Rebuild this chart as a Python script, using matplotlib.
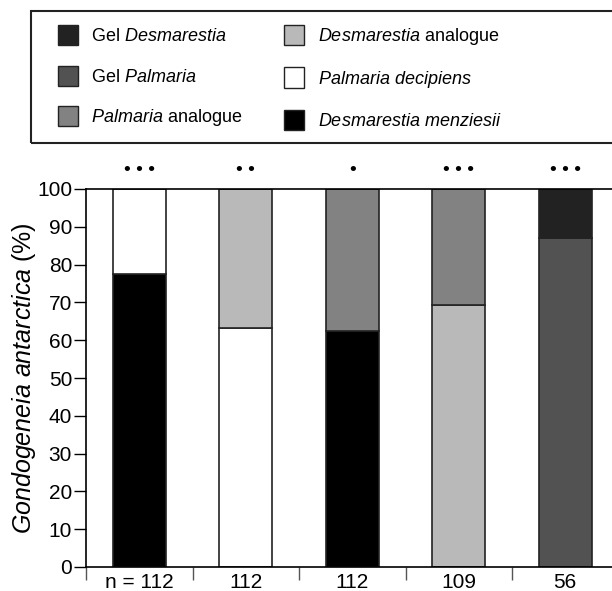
import matplotlib.pyplot as plt
from matplotlib.patches import Patch, Rectangle
import numpy as np

plt.rcParams['font.family'] = ['Liberation Sans', 'DejaVu Sans']
plt.rcParams['mathtext.fontset'] = 'custom'
plt.rcParams['mathtext.rm'] = 'Liberation Sans'
plt.rcParams['mathtext.it'] = 'Liberation Sans:italic'

# --- data ---
groups = ["n = 112", "112", "112", "109", "56"]
significance = ["• • •", "• •", "•", "• • •", "• • •"]
bottom_species = ["Desmarestia menziesii", "Palmaria decipiens", "Desmarestia menziesii",
                  "Desmarestia analogue", "Gel Palmaria"]
bottom_pct = [77.4, 63.3, 62.5, 69.3, 87.1]
top_species = ["Palmaria decipiens", "Desmarestia analogue", "Palmaria analogue",
               "Palmaria analogue", "Gel Desmarestia"]
top_pct = [100 - v for v in bottom_pct]

colors = {
    "Gel Desmarestia": "#222222",
    "Gel Palmaria": "#525252",
    "Palmaria analogue": "#828282",
    "Desmarestia analogue": "#b9b9b9",
    "Palmaria decipiens": "#ffffff",
    "Desmarestia menziesii": "#000000",
}
legend_labels = {
    "Gel Desmarestia": r"Gel $\it{Desmarestia}$",
    "Gel Palmaria": r"Gel $\it{Palmaria}$",
    "Palmaria analogue": r"$\it{Palmaria}$ analogue",
    "Desmarestia analogue": r"$\it{Desmarestia}$ analogue",
    "Palmaria decipiens": r"$\it{Palmaria\ decipiens}$",
    "Desmarestia menziesii": r"$\it{Desmarestia\ menziesii}$",
}

fig = plt.figure(figsize=(6.12, 5.91), dpi=100)
ax = fig.add_axes([86 / 612, 1 - 567 / 591, 532.5 / 612, 378 / 591])

x = np.arange(len(groups))
ax.bar(x, bottom_pct, width=0.5, color=[colors[s] for s in bottom_species],
       edgecolor="#222222", linewidth=1.2)
ax.bar(x, top_pct, width=0.5, bottom=bottom_pct, color=[colors[s] for s in top_species],
       edgecolor="#222222", linewidth=1.2)

for xi, sig in zip(x, significance):
    ax.text(xi, 104.8, sig, ha="center", va="center", fontsize=14, clip_on=False)

ax.set_xlim(-0.5, len(groups) - 0.5)
ax.set_ylim(0, 100)
ax.set_yticks(np.arange(0, 101, 10))
ax.tick_params(axis="y", direction="out", length=9, width=1, labelsize=15, pad=1)
ax.set_xticks(x)
ax.set_xticklabels(groups, fontsize=15)
ax.set_xticks(np.arange(len(groups)) - 0.5, minor=True)
ax.tick_params(axis="x", which="major", length=0, pad=4)
ax.tick_params(axis="x", which="minor", direction="out", length=9, width=1, color="#555555")
ax.spines["right"].set_visible(False)
for s in ["left", "bottom", "top"]:
    ax.spines[s].set_linewidth(1.2)
ax.set_ylabel(r"$\it{Gondogeneia\ antarctica}$ (%)", fontsize=18, labelpad=-1)

# legend box
fig.patches.append(Rectangle((31 / 612, 1 - 143 / 591), 0.98, 132 / 591, transform=fig.transFigure,
                             fill=False, edgecolor="#222222", linewidth=1.5))
order = ["Gel Desmarestia", "Gel Palmaria", "Palmaria analogue",
         "Desmarestia analogue", "Palmaria decipiens", "Desmarestia menziesii"]
handles = [Patch(facecolor=colors[k], edgecolor="#222222", linewidth=1.0, label=legend_labels[k])
           for k in order]
fig.legend(handles=handles, ncol=2, loc="upper left", bbox_to_anchor=(49 / 612, 1 - 16 / 591),
           frameon=False, fontsize=13, handlelength=1.1, handleheight=1.35,
           handletextpad=0.75, columnspacing=2.3, labelspacing=1.12, borderpad=0)

fig.savefig("out.png", dpi=100)
